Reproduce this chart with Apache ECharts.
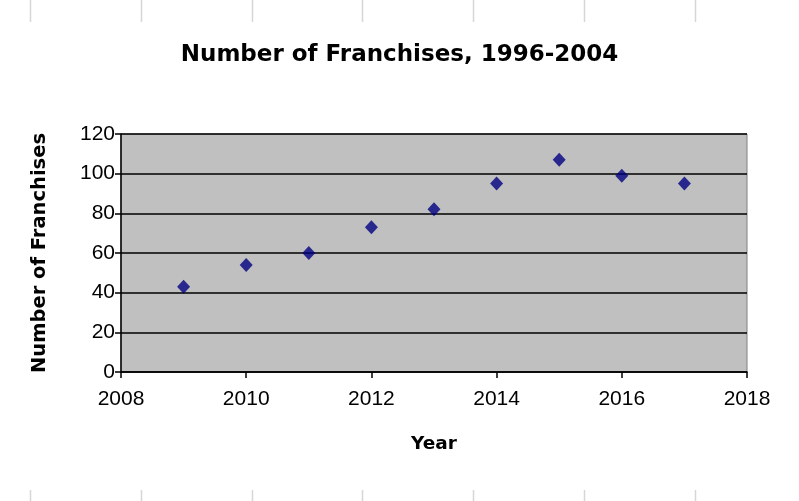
<!DOCTYPE html>
<html>
<head>
<meta charset="utf-8">
<script src="https://cdn.jsdelivr.net/npm/echarts@6/dist/echarts.min.js"></script>
<style>html,body{margin:0;padding:0;background:#fff}#c{width:799px;height:501px}</style>
</head>
<body>
<div id="c"></div>
<script>
var years = [2009, 2010, 2011, 2012, 2013, 2014, 2015, 2016, 2017];
var franchises = [43, 54, 60, 73, 82, 95, 107, 99, 95];
var titleText = 'Number of Franchises, 1996-2004';
var xName = 'Year';
var yName = 'Number of Franchises';

var chart = echarts.init(document.getElementById('c'));
var font = 'Liberation Sans, Arial, sans-serif';
var boldFont = 'DejaVu Sans, Liberation Sans, sans-serif';
var deco = [];
var cols = [30, 141, 252, 362, 473, 584, 695];
cols.forEach(function (x) {
  deco.push({type: 'line', shape: {x1: x + 0.5, y1: 0, x2: x + 0.5, y2: 22}, style: {stroke: '#d6d6d6', lineWidth: 1.5}, silent: true});
  deco.push({type: 'line', shape: {x1: x + 0.5, y1: 490, x2: x + 0.5, y2: 501}, style: {stroke: '#d6d6d6', lineWidth: 1.5}, silent: true});
});
chart.setOption({
  animation: false,
  backgroundColor: '#ffffff',
  title: {
    text: titleText, left: 'center', top: 39,
    textStyle: {fontFamily: boldFont, fontSize: 23, fontWeight: 'bold', color: '#000'}
  },
  graphic: deco,
  grid: {left: 121, top: 134, right: 52, bottom: 129, show: true, backgroundColor: '#c0c0c0', borderColor: '#808080', borderWidth: 1},
  xAxis: {
    type: 'value', min: 2008, max: 2018, interval: 2,
    name: xName, nameLocation: 'middle', nameGap: 63,
    nameTextStyle: {fontFamily: boldFont, fontSize: 18.5, fontWeight: 'bold', color: '#000'},
    axisLine: {show: true, onZero: false, lineStyle: {color: '#000', width: 1.5}},
    axisTick: {show: true, inside: false, length: 6, lineStyle: {color: '#000', width: 1.5}},
    axisLabel: {fontFamily: font, fontSize: 21, color: '#000', margin: 17, formatter: function (v) { return String(v); }},
    splitLine: {show: false}
  },
  yAxis: {
    type: 'value', min: 0, max: 120, interval: 20,
    name: yName, nameLocation: 'middle', nameGap: 71, nameRotate: 90,
    nameTextStyle: {fontFamily: boldFont, fontSize: 19.5, fontWeight: 'bold', color: '#000'},
    axisLine: {show: true, lineStyle: {color: '#000', width: 1.5}},
    axisTick: {show: true, inside: false, length: 6, lineStyle: {color: '#000', width: 1.5}},
    axisLabel: {fontFamily: font, fontSize: 21, color: '#000', margin: 6},
    splitLine: {show: true, lineStyle: {color: '#000', width: 1.5}}
  },
  series: [{
    type: 'scatter',
    data: years.map(function (y, i) { return [y, franchises[i]]; }),
    symbol: 'diamond', symbolSize: [13, 14],
    itemStyle: {color: '#000080'}
  }]
});
</script>
</body>
</html>
